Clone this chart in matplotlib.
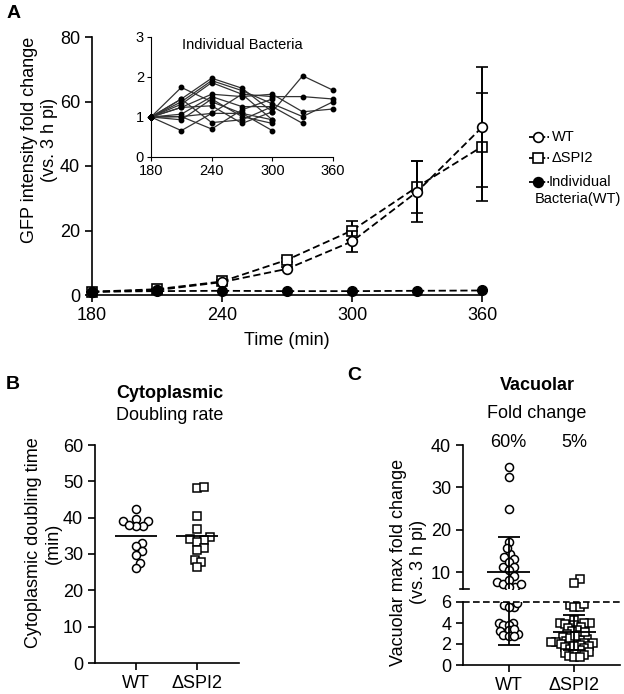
import numpy as np
import matplotlib
matplotlib.use("Agg")
import matplotlib.pyplot as plt
from matplotlib.lines import Line2D

plt.rcParams['font.family'] = ['Liberation Sans', 'DejaVu Sans']

# ---- panel A data ----
times = [180, 210, 240, 270, 300, 330, 360]
wt_mean = [1.0, 1.5, 4.0, 8.1, 16.6, 32.0, 52.0]
wt_err = [0, 0.2, 0.3, 0.5, 3.2, 9.5, 18.6]
spi2_mean = [1.0, 1.8, 4.2, 10.9, 20.0, 33.5, 46.0]
spi2_err = [0, 0.2, 0.3, 0.6, 3.0, 8.0, 16.7]
indiv_mean = [1.0, 1.2, 1.3, 1.2, 1.2, 1.3, 1.4]
legend_labels = ['WT', '\u0394SPI2', 'Individual\nBacteria(WT)']

# inset: individual bacteria traces (nan = not tracked)
nan = np.nan
indiv_traces = [
    [1, 1.74, 1.38, 1.09, 0.66, nan, nan],
    [1, 0.66, 1.09, 1.57, 1.51, 1.51, 1.45],
    [1, 1.45, 1.97, 1.72, 1.13, 2.03, 1.67],
    [1, 1.38, 1.91, 1.66, 1.33, 1.01, 1.38],
    [1, 1.32, 1.86, 1.57, 0.93, nan, nan],
    [1, 1.24, 1.57, 1.51, 1.57, 1.13, 1.20],
    [1, 1.07, 1.51, 1.26, 1.26, 0.84, nan],
    [1, 1.01, 0.70, 1.18, 1.45, nan, nan],
    [1, 0.93, 1.45, 1.01, 0.84, nan, nan],
    [1, 1.45, 0.86, 0.93, 1.26, nan, nan],
    [1, 1.24, 1.28, 0.84, 1.13, nan, nan],
    [1, 1.01, 1.09, 1.09, 0.93, nan, nan],
]

# ---- panel B data ----
groups = ['WT', '\u0394SPI2']
b_wt = [42.3, 39.1, 39.7, 39.2, 37.7, 37.7, 38.0, 33.0, 32.2, 30.7, 29.7, 27.6, 26.1]
b_spi2 = [48.1, 48.4, 40.5, 36.8, 34.8, 33.9, 34.0, 33.4, 31.6, 31.1, 28.4, 27.9, 26.4]
b_means = [35.0, 35.0]

# ---- panel C data ----
c_wt = [32.5, 34.8, 24.9, 17.1, 14.2, 15.6, 13.5, 13.0, 11.2, 12.4, 11.2, 10.4,
        9.0, 7.6, 7.1, 8.1, 6.4, 6.4, 7.1,
        5.7, 5.55, 5.5, 5.9, 4.0, 3.8, 4.0, 3.8, 3.0, 3.3, 3.4, 3.2, 2.85, 2.8, 2.8]
c_spi2 = [8.3, 7.4,
          5.7, 5.5, 5.5, 5.8, 4.3, 4.0, 4.0, 3.9, 4.0, 3.8, 3.6, 3.5, 3.3, 3.2,
          3.0, 2.9, 2.7, 2.5, 2.4, 2.3, 2.3, 2.2, 2.1, 2.1, 2.0, 2.0, 1.9, 1.8,
          1.7, 1.6, 1.5, 1.4, 1.3, 1.2, 1.1, 1.0, 0.9, 0.8, 0.8, 2.6, 2.8, 3.1,
          1.8, 2.2]
c_means = [10.1, 3.1]
c_sd = [8.2, 1.7]
c_pct = ['60%', '5%']
cut = 6

W, H = 624, 694
fig = plt.figure(figsize=(W / 100, H / 100), dpi=100)


def box(l, t, r, b):
    return [l / W, 1 - b / H, (r - l) / W, (b - t) / H]


def clean(ax):
    ax.spines['top'].set_visible(False)
    ax.spines['right'].set_visible(False)
    ax.tick_params(direction='out', length=5, width=1.2, labelsize=13)
    for s in ax.spines.values():
        s.set_linewidth(1.2)


def swarm(ax, x0, vals, d_px):
    pts = ax.transData.transform(np.column_stack([np.full(len(vals), x0), vals]))
    ypx = pts[:, 1]
    xc = pts[0, 0]
    placed = []
    xs = np.zeros(len(vals))
    for i in np.argsort(ypx):
        y = ypx[i]
        cands = [0.0]
        for px, py in placed:
            dy = y - py
            if abs(dy) < d_px:
                dx = np.sqrt(d_px ** 2 - dy ** 2)
                cands += [px + dx, px - dx]
        cands.sort(key=abs)
        for c in cands:
            if all((c - px) ** 2 + (y - py) ** 2 >= d_px ** 2 - 1e-6 for px, py in placed):
                break
        placed.append((c, y))
        xs[i] = c
    inv = ax.transData.inverted()
    return inv.transform(np.column_stack([xc + xs, ypx]))[:, 0]


# ================= A =================
ax = fig.add_axes(box(92, 37, 482, 295))
clean(ax)
ax.set_xlim(180, 360)
ax.set_ylim(0, 80)
ax.set_xticks([180, 240, 300, 360])
ax.set_yticks([0, 20, 40, 60, 80])
kw = dict(color='k', ls=(0, (4, 2)), lw=1.3, capsize=4, elinewidth=1.4, capthick=1.4, clip_on=False)
ax.errorbar(times, wt_mean, yerr=wt_err, marker='o', ms=7, mfc='white', mec='k', mew=1.2, zorder=4, **kw)
ax.errorbar(times, spi2_mean, yerr=spi2_err, marker='s', ms=6.5, mfc='white', mec='k', mew=1.2, zorder=3, **kw)
ax.plot(times, indiv_mean, color='k', ls=(0, (4, 2)), lw=1.3, marker='o', ms=7, mfc='k', mec='k', clip_on=False, zorder=5)
ax.set_xlabel('Time (min)', fontsize=13, labelpad=6)
ax.set_ylabel('GFP intensity fold change\n(vs. 3 h pi)', fontsize=13)
ax.yaxis.set_label_coords(-0.088, 0.6)

# legend drawn by hand (centred two-line label as in the original)
leg_styles = [dict(marker='o', ms=7, mfc='white'), dict(marker='s', ms=6.5, mfc='white'),
              dict(marker='o', ms=7, mfc='k')]
leg_y = [137, 158, 182]
for lab, st, yy in zip(legend_labels, leg_styles, leg_y):
    fig.add_artist(Line2D([529 / W, 549 / W], [1 - yy / H] * 2, transform=fig.transFigure,
                          color='k', ls=(0, (2.2, 1.2)), lw=1.3))
    fig.add_artist(Line2D([538 / W], [1 - yy / H], transform=fig.transFigure,
                          color='k', mec='k', mew=1.2, **st))
    if '\n' in lab:
        first, second = lab.split('\n')
        fig.text(580 / W, 1 - yy / H, first, ha='center', va='center', fontsize=10.5)
        fig.text(578 / W, 1 - (yy + 17) / H, second, ha='center', va='center', fontsize=10.5)
    else:
        fig.text(552 / W, 1 - yy / H, lab, ha='left', va='center', fontsize=10.5)

# inset
axi = fig.add_axes(box(151, 37, 333, 157))
axi.spines['top'].set_visible(False)
axi.spines['right'].set_visible(False)
for s in axi.spines.values():
    s.set_linewidth(0.8)
axi.set_xlim(180, 360)
axi.set_ylim(0, 3)
axi.set_xticks([180, 240, 300, 360])
axi.set_yticks([0, 1, 2, 3])
axi.tick_params(direction='out', length=3, width=0.8, labelsize=10.5, pad=2)
for tr in indiv_traces:
    axi.plot(times, tr, color='#333333', lw=0.9, marker='o', ms=3.2, mfc='k', mec='k', clip_on=False)
axi.text(0.5, 0.93, 'Individual Bacteria', transform=axi.transAxes, ha='center', va='center', fontsize=10.5)

# ================= B =================
axb = fig.add_axes(box(95, 445, 239, 663))
clean(axb)
axb.set_xlim(-0.67, 1.69)
axb.set_ylim(0, 60)
axb.set_yticks(range(0, 61, 10))
axb.set_xticks([0, 1])
axb.set_xticklabels(groups)
for i, (vals, mk) in enumerate([(b_wt, 'o'), (b_spi2, 's')]):
    xs = swarm(axb, i, vals, 7.0)
    axb.plot(xs, vals, ls='none', marker=mk, ms=5.8 if mk == 'o' else 5.5,
             mfc='white', mec='k', mew=1.1, zorder=3)
    axb.hlines(b_means[i], i - 0.34, i + 0.34, color='k', lw=1.3, zorder=4)
axb.set_ylabel('Cytoplasmic doubling time\n(min)', fontsize=13)
axb.yaxis.set_label_coords(-0.23, 0.55)
fig.text(170 / W, 1 - 393 / H, 'Cytoplasmic', ha='center', va='center', fontsize=13, fontweight='bold')
fig.text(170 / W, 1 - 415 / H, 'Doubling rate', ha='center', va='center', fontsize=13)

# ================= C =================
axu = fig.add_axes(box(463, 445, 620, 589))
axl = fig.add_axes(box(463, 602, 620, 665))
for a in (axu, axl):
    clean(a)
    a.set_xlim(-0.69, 1.69)
axu.set_ylim(cut, 40)
axl.set_ylim(0, cut)
axu.set_yticks([10, 20, 30, 40])
axl.set_yticks([0, 2, 4, 6])
axu.spines['bottom'].set_visible(False)
axu.set_xticks([])
axl.set_xticks([0, 1])
axl.set_xticklabels(groups)
axu.plot([-0.02, 0.04], [0, 0], transform=axu.transAxes, color='k', lw=1.2, clip_on=False)

for i, (vals, mk) in enumerate([(c_wt, 'o'), (c_spi2, 's')]):
    vals = np.array(vals)
    hi = vals[vals >= cut]
    lo = vals[vals < cut]
    ms = 5.8 if mk == 'o' else 5.3
    if len(hi):
        xs = swarm(axu, i, hi, 6.5)
        axu.plot(xs, hi, ls='none', marker=mk, ms=ms, mfc='white', mec='k', mew=1.1, zorder=3)
    if len(lo):
        xs = swarm(axl, i, lo, 5.2)
        axl.plot(xs, lo, ls='none', marker=mk, ms=ms, mfc='white', mec='k', mew=1.1, zorder=3)
    for a in (axu, axl):
        a.errorbar([i], [c_means[i]], yerr=[c_sd[i]], color='k', lw=0, elinewidth=1.3,
                   capsize=8, capthick=1.3, zorder=4)
        a.hlines(c_means[i], i - 0.33, i + 0.33, color='k', lw=1.3, zorder=4)
    axu.text(i, 40.5, c_pct[i], ha='center', va='center', fontsize=13)

axl.axhline(cut, color='k', ls=(0, (4, 2)), lw=1.2, clip_on=False, zorder=5)
axl.set_ylabel('Vacuolar max fold change\n(vs. 3 h pi)', fontsize=13)
axl.yaxis.set_label_coords(-0.23, 1.63)
fig.text(537 / W, 1 - 385 / H, 'Vacuolar', ha='center', va='center', fontsize=13, fontweight='bold')
fig.text(537 / W, 1 - 413 / H, 'Fold change', ha='center', va='center', fontsize=13)

# panel letters
fig.text(14 / W, 1 - 13 / H, 'A', ha='center', va='center', fontsize=14, fontweight='bold')
fig.text(13 / W, 1 - 384 / H, 'B', ha='center', va='center', fontsize=14, fontweight='bold')
fig.text(354 / W, 1 - 376 / H, 'C', ha='center', va='center', fontsize=14, fontweight='bold')

fig.savefig('out.png', dpi=100)
